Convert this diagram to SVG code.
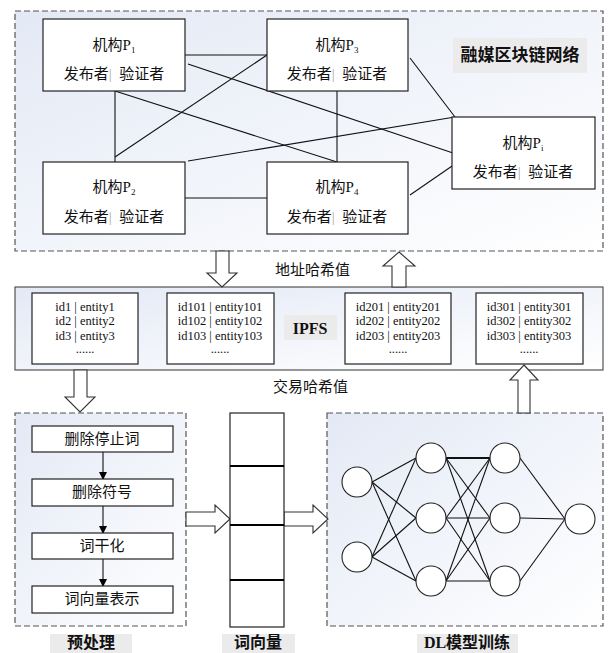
<svg xmlns="http://www.w3.org/2000/svg" width="609" height="653" viewBox="0 0 609 653">
<defs>
<linearGradient id="bg" x1="0" y1="0" x2="1" y2="1">
<stop offset="0" stop-color="#e3e9f5"/>
<stop offset="1" stop-color="#ffffff"/>
</linearGradient>
<marker id="tri" markerWidth="8" markerHeight="8" refX="7" refY="4" orient="auto" markerUnits="userSpaceOnUse">
<path d="M0,0 L8,4 L0,8 z" fill="#000"/>
</marker>
<style>
.cont{fill:url(#bg);stroke:#555;stroke-width:1.2;stroke-dasharray:6,3}
.box{fill:#fff;stroke:#222;stroke-width:1.2}
.ln{stroke:#111;stroke-width:1.1;fill:none}
.blk{fill:#fff;stroke:#333;stroke-width:1.1}
.cjk{font-family:"Liberation Serif","Noto Sans CJK SC",serif;font-size:15px;fill:#111}
.id{font-family:"Liberation Serif","Noto Sans CJK SC",serif;font-size:12.5px;fill:#111}
.lab{font-family:"Liberation Serif","Noto Sans CJK SC",serif;font-size:16px;font-weight:bold;fill:#111}
.gbg{fill:#ebebeb}
.sub{font-size:9px}
.sep{fill:#aaa}
.circ{fill:#fff;stroke:#222;stroke-width:1.1}
</style>
</defs>

<!-- containers -->
<rect id="blockchain" class="cont" x="15" y="11" width="588" height="240"/>
<rect id="ipfs-container" x="15" y="287" width="588" height="83" fill="url(#bg)" stroke="#444" stroke-width="1.1"/>
<rect id="preprocess-container" class="cont" x="15" y="413" width="171" height="213"/>
<rect id="dl-container" class="cont" x="327" y="413" width="276" height="213"/>

<!-- connectors -->
<g id="connectors">
<line class="ln" x1="185" y1="55" x2="267" y2="55"/>
<line class="ln" x1="188" y1="64" x2="453" y2="153"/>
<line class="ln" x1="115" y1="91" x2="115" y2="162"/>
<line class="ln" x1="115" y1="91" x2="337" y2="162"/>
<line class="ln" x1="115" y1="157" x2="267" y2="55"/>
<line class="ln" x1="188" y1="161" x2="455" y2="117"/>
<line class="ln" x1="185" y1="198" x2="267" y2="198"/>
<line class="ln" x1="337" y1="91" x2="337" y2="162"/>
<line class="ln" x1="410" y1="58" x2="455" y2="117"/>
<line class="ln" x1="410" y1="195" x2="455" y2="164"/>
<line class="ln" x1="103" y1="452" x2="103" y2="479" marker-end="url(#tri)"/>
<line class="ln" x1="103" y1="506" x2="103" y2="533" marker-end="url(#tri)"/>
<line class="ln" x1="103" y1="559" x2="103" y2="586" marker-end="url(#tri)"/>
<polygon class="blk" points="216,251 229,251 229,273 237,273 222,287 207,273 216,273"/>
<polygon class="blk" points="399,252 415,266 406,266 406,287 392,287 392,266 383,266"/>
<polygon class="blk" points="74,370 87,370 87,397 95,397 80,412 65,397 74,397"/>
<polygon class="blk" points="524,365 538,380 530,380 530,413 518,413 518,380 510,380"/>
<polygon class="blk" points="186,512 215,512 215,505 230,519 215,533 215,526 186,526"/>
<polygon class="blk" points="284,512 313,512 313,505 328,519 313,533 313,526 284,526"/>
</g>

<!-- blockchain nodes -->
<g id="P1">
<rect class="box" x="43" y="19" width="142" height="72"/>
<text class="cjk" x="114" y="50" text-anchor="middle">机构P<tspan class="sub" dy="3">1</tspan></text>
<text class="cjk" x="114" y="79" text-anchor="middle">发布者<tspan class="sep">|</tspan>&#160;&#160;验证者</text>
</g>
<g id="P2">
<rect class="box" x="43" y="162" width="142" height="72"/>
<text class="cjk" x="114" y="192" text-anchor="middle">机构P<tspan class="sub" dy="3">2</tspan></text>
<text class="cjk" x="114" y="222" text-anchor="middle">发布者<tspan class="sep">|</tspan>&#160;&#160;验证者</text>
</g>
<g id="P3">
<rect class="box" x="267" y="19" width="141" height="72"/>
<text class="cjk" x="337" y="50" text-anchor="middle">机构P<tspan class="sub" dy="3">3</tspan></text>
<text class="cjk" x="337" y="79" text-anchor="middle">发布者<tspan class="sep">|</tspan>&#160;&#160;验证者</text>
</g>
<g id="P4">
<rect class="box" x="267" y="162" width="141" height="72"/>
<text class="cjk" x="337" y="192" text-anchor="middle">机构P<tspan class="sub" dy="3">4</tspan></text>
<text class="cjk" x="337" y="222" text-anchor="middle">发布者<tspan class="sep">|</tspan>&#160;&#160;验证者</text>
</g>
<g id="Pi">
<rect class="box" x="452" y="117" width="143" height="72"/>
<text class="cjk" x="523" y="148" text-anchor="middle">机构P<tspan class="sub" dy="3">i</tspan></text>
<text class="cjk" x="523" y="177" text-anchor="middle">发布者<tspan class="sep">|</tspan>&#160;&#160;验证者</text>
</g>
<g id="blockchain-label">
<rect class="gbg" x="453" y="38" width="134" height="35"/>
<text class="lab" x="520" y="61" text-anchor="middle" style="font-size:17px">融媒区块链网络</text>
</g>

<text class="cjk" x="275" y="275">地址哈希值</text>
<text class="cjk" x="273" y="392">交易哈希值</text>

<!-- IPFS boxes -->
<g id="ipfs-box1">
<rect class="box" x="32" y="293" width="106" height="71"/>
<text class="id" x="85" y="311" text-anchor="middle">id1 | entity1</text>
<text class="id" x="85" y="325" text-anchor="middle">id2 | entity2</text>
<text class="id" x="85" y="340" text-anchor="middle">id3 | entity3</text>
<text class="id" x="85" y="353" text-anchor="middle">......</text>
</g>
<g id="ipfs-box2">
<rect class="box" x="167" y="293" width="107" height="71"/>
<text class="id" x="220" y="311" text-anchor="middle">id101 | entity101</text>
<text class="id" x="220" y="325" text-anchor="middle">id102 | entity102</text>
<text class="id" x="220" y="340" text-anchor="middle">id103 | entity103</text>
<text class="id" x="220" y="353" text-anchor="middle">......</text>
</g>
<g id="ipfs-label">
<rect class="gbg" x="284" y="315" width="53" height="25"/>
<text class="lab" x="310" y="334" text-anchor="middle">IPFS</text>
</g>
<g id="ipfs-box3">
<rect class="box" x="345" y="293" width="106" height="71"/>
<text class="id" x="398" y="311" text-anchor="middle">id201 | entity201</text>
<text class="id" x="398" y="325" text-anchor="middle">id202 | entity202</text>
<text class="id" x="398" y="340" text-anchor="middle">id203 | entity203</text>
<text class="id" x="398" y="353" text-anchor="middle">......</text>
</g>
<g id="ipfs-box4">
<rect class="box" x="476" y="293" width="107" height="71"/>
<text class="id" x="529" y="311" text-anchor="middle">id301 | entity301</text>
<text class="id" x="529" y="325" text-anchor="middle">id302 | entity302</text>
<text class="id" x="529" y="340" text-anchor="middle">id303 | entity303</text>
<text class="id" x="529" y="353" text-anchor="middle">......</text>
</g>

<!-- preprocessing steps -->
<g id="step1">
<rect class="box" x="32" y="426" width="141" height="26"/>
<text class="cjk" x="102" y="444" text-anchor="middle">删除停止词</text>
</g>
<g id="step2">
<rect class="box" x="32" y="479" width="141" height="27"/>
<text class="cjk" x="102" y="497" text-anchor="middle">删除符号</text>
</g>
<g id="step3">
<rect class="box" x="32" y="533" width="141" height="26"/>
<text class="cjk" x="102" y="551" text-anchor="middle">词干化</text>
</g>
<g id="step4">
<rect class="box" x="32" y="586" width="141" height="27"/>
<text class="cjk" x="102" y="604" text-anchor="middle">词向量表示</text>
</g>
<g id="preprocess-label">
<rect class="gbg" x="50" y="634" width="82" height="19"/>
<text class="lab" x="91" y="648" text-anchor="middle">预处理</text>
</g>

<!-- word vector -->
<g id="word-vector">
<rect class="box" x="230" y="413" width="54" height="214"/>
<line x1="230" y1="466" x2="284" y2="466" stroke="#000" stroke-width="2"/>
<line x1="230" y1="525" x2="284" y2="525" stroke="#000" stroke-width="2"/>
<line x1="230" y1="580" x2="284" y2="580" stroke="#000" stroke-width="2"/>
</g>
<g id="vector-label">
<rect class="gbg" x="222" y="634" width="73" height="19"/>
<text class="lab" x="258" y="648" text-anchor="middle">词向量</text>
</g>

<!-- neural net -->
<g id="nn-edges" class="ln">
<line x1="372" y1="482" x2="416" y2="458"/>
<line x1="372" y1="482" x2="416" y2="518"/>
<line x1="372" y1="482" x2="416" y2="581"/>
<line x1="372" y1="557" x2="416" y2="458"/>
<line x1="372" y1="557" x2="416" y2="518"/>
<line x1="372" y1="557" x2="416" y2="581"/>
<line x1="446" y1="458" x2="490" y2="458" stroke-width="2.2"/>
<line x1="446" y1="458" x2="490" y2="518"/>
<line x1="446" y1="458" x2="490" y2="581"/>
<line x1="446" y1="518" x2="490" y2="458"/>
<line x1="446" y1="518" x2="490" y2="518"/>
<line x1="446" y1="518" x2="490" y2="581"/>
<line x1="446" y1="581" x2="490" y2="458"/>
<line x1="446" y1="581" x2="490" y2="518"/>
<line x1="446" y1="581" x2="490" y2="581"/>
<line x1="520" y1="458" x2="565" y2="519"/>
<line x1="520" y1="518" x2="565" y2="519"/>
<line x1="520" y1="581" x2="565" y2="519"/>
</g>
<g id="nn-nodes">
<circle class="circ" cx="357" cy="482" r="15"/>
<circle class="circ" cx="357" cy="557" r="15"/>
<circle class="circ" cx="431" cy="458" r="15"/>
<circle class="circ" cx="431" cy="518" r="15"/>
<circle class="circ" cx="431" cy="581" r="15"/>
<circle class="circ" cx="505" cy="458" r="15"/>
<circle class="circ" cx="505" cy="518" r="15"/>
<circle class="circ" cx="505" cy="581" r="15"/>
<circle class="circ" cx="580" cy="519" r="15"/>
</g>
<g id="dl-label">
<rect class="gbg" x="417" y="634" width="101" height="19"/>
<text class="lab" x="467" y="648" text-anchor="middle">DL模型训练</text>
</g>
</svg>
